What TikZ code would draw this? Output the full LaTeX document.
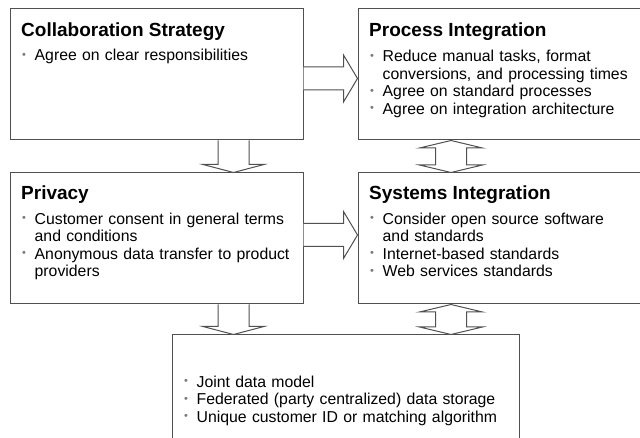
\documentclass[tikz,border=0pt]{standalone}
\usepackage{fontspec}
\setmainfont{Liberation Sans}
\usetikzlibrary{positioning,calc}
\definecolor{linegray}{HTML}{505050}
\definecolor{dotgray}{HTML}{7A7A7A}
\newcommand\headfont{\bfseries\fontsize{19}{21}\selectfont}
\newcommand\bodyfont{\fontsize{15.8}{17.5}\selectfont}
% one bullet line, and a continued line of the same bullet
\newcommand\bitem{\noindent\makebox[13pt][l]{\hspace{0.5pt}\raisebox{2.5pt}{\textcolor{dotgray}{\fontsize{11}{11}\selectfont\textbullet}}}}
\newcommand\bnext{\noindent\hspace*{13pt}}
% block arrows: right, down, and up-down
\newcommand\hblock[2]{%
  \draw[blockline] let \p1=(#1), \p2=(#2) in
    (\x1,\y1+11.5pt) -- (\x2-14pt,\y1+11.5pt) -- (\x2-14pt,\y1+23.5pt) -- (\x2,\y1)
    -- (\x2-14pt,\y1-23.5pt) -- (\x2-14pt,\y1-11.5pt) -- (\x1,\y1-11.5pt);}
\newcommand\vblock[2]{%
  \draw[blockline] let \p1=(#1), \p2=(#2) in
    (\x1-15.5pt,\y1) -- (\x1-15.5pt,\y2+8pt) -- (\x1-30.5pt,\y2+8pt) -- (\x1,\y2)
    -- (\x1+30.5pt,\y2+8pt) -- (\x1+15.5pt,\y2+8pt) -- (\x1+15.5pt,\y1);}
\newcommand\dblock[2]{%
  \draw[blockline] let \p1=(#1), \p2=(#2) in
    (\x1-15.5pt,\y1-7.5pt) -- (\x1-31.5pt,\y1-7.5pt) -- (\x1,\y1) -- (\x1+31.5pt,\y1-7.5pt)
    -- (\x1+15.5pt,\y1-7.5pt) -- (\x1+15.5pt,\y2+7.5pt) -- (\x1+31.5pt,\y2+7.5pt) -- (\x1,\y2)
    -- (\x1-31.5pt,\y2+7.5pt) -- (\x1-15.5pt,\y2+7.5pt) -- cycle;}
\tikzset{
  boxframe/.style={draw=linegray, line width=1pt, inner sep=0pt,
    minimum width=293pt, minimum height=131pt},
  headtext/.style={anchor=base west, inner sep=0pt, font=\headfont},
  bodytext/.style={anchor=base west, inner sep=0pt, text width=320pt,
    align=left, font=\bodyfont},
  blockline/.style={draw=linegray, line width=1pt, fill=white}
}
\begin{document}
\begin{tikzpicture}[x=1pt,y=1pt]
\useasboundingbox (0,0) rectangle (640,438);
\clip (0,0) rectangle (640,438);

% the five boxes
\node[boxframe] (coll) at (156.5,363.5) {};
\node[boxframe, minimum width=303pt, right=54pt of coll] (proc) {};
\node[boxframe, below=32pt of coll] (priv) {};
\node[boxframe, minimum width=303pt, right=54pt of priv] (sys) {};
\node[boxframe, minimum width=347pt, minimum height=140pt, anchor=north west]
  (data) at ([shift={(162pt,-30pt)}]priv.south west) {};

% texts
\node[headtext] (coll-head) at ([shift={(11.5pt,-28pt)}]coll.north west) {Collaboration Strategy};
\node[bodytext] (coll-body) at ([shift={(12pt,-52.5pt)}]coll.north west)
  {\bitem Agree on clear responsibilities};

\node[headtext] (proc-head) at ([shift={(11.5pt,-28pt)}]proc.north west) {Process Integration};
\node[bodytext] (proc-body) at ([shift={(12pt,-53.5pt)}]proc.north west)
  {\bitem Reduce manual tasks, format\par
   \bnext conversions, and processing times\par
   \bitem Agree on standard processes\par
   \bitem Agree on integration architecture};

\node[headtext] (priv-head) at ([shift={(11.5pt,-27pt)}]priv.north west) {Privacy};
\node[bodytext] (priv-body) at ([shift={(12pt,-52pt)}]priv.north west)
  {\bitem Customer consent in general terms\par
   \bnext and conditions\par
   \bitem Anonymous data transfer to product\par
   \bnext providers};

\node[headtext] (sys-head) at ([shift={(11.5pt,-27pt)}]sys.north west) {Systems Integration};
\node[bodytext] (sys-body) at ([shift={(12pt,-52pt)}]sys.north west)
  {\bitem Consider open source software\par
   \bnext and standards\par
   \bitem Internet-based standards\par
   \bitem Web services standards};

\node[bodytext] (data-body) at ([shift={(12pt,-53pt)}]data.north west)
  {\bitem Joint data model\par
   \bitem Federated (party centralized) data storage\par
   \bitem Unique customer ID or matching algorithm};

% block arrows
\hblock{[yshift=-4pt]coll.east}{proc.west}
\hblock{[yshift=3.5pt]priv.east}{sys.west}
\vblock{[xshift=77pt]coll.south}{priv.north}
\vblock{[xshift=77pt]priv.south}{data.north}
\dblock{[xshift=93.5pt]proc.south west}{sys.north}
\dblock{[xshift=93.5pt]sys.south west}{data.north}
\end{tikzpicture}
\end{document}
